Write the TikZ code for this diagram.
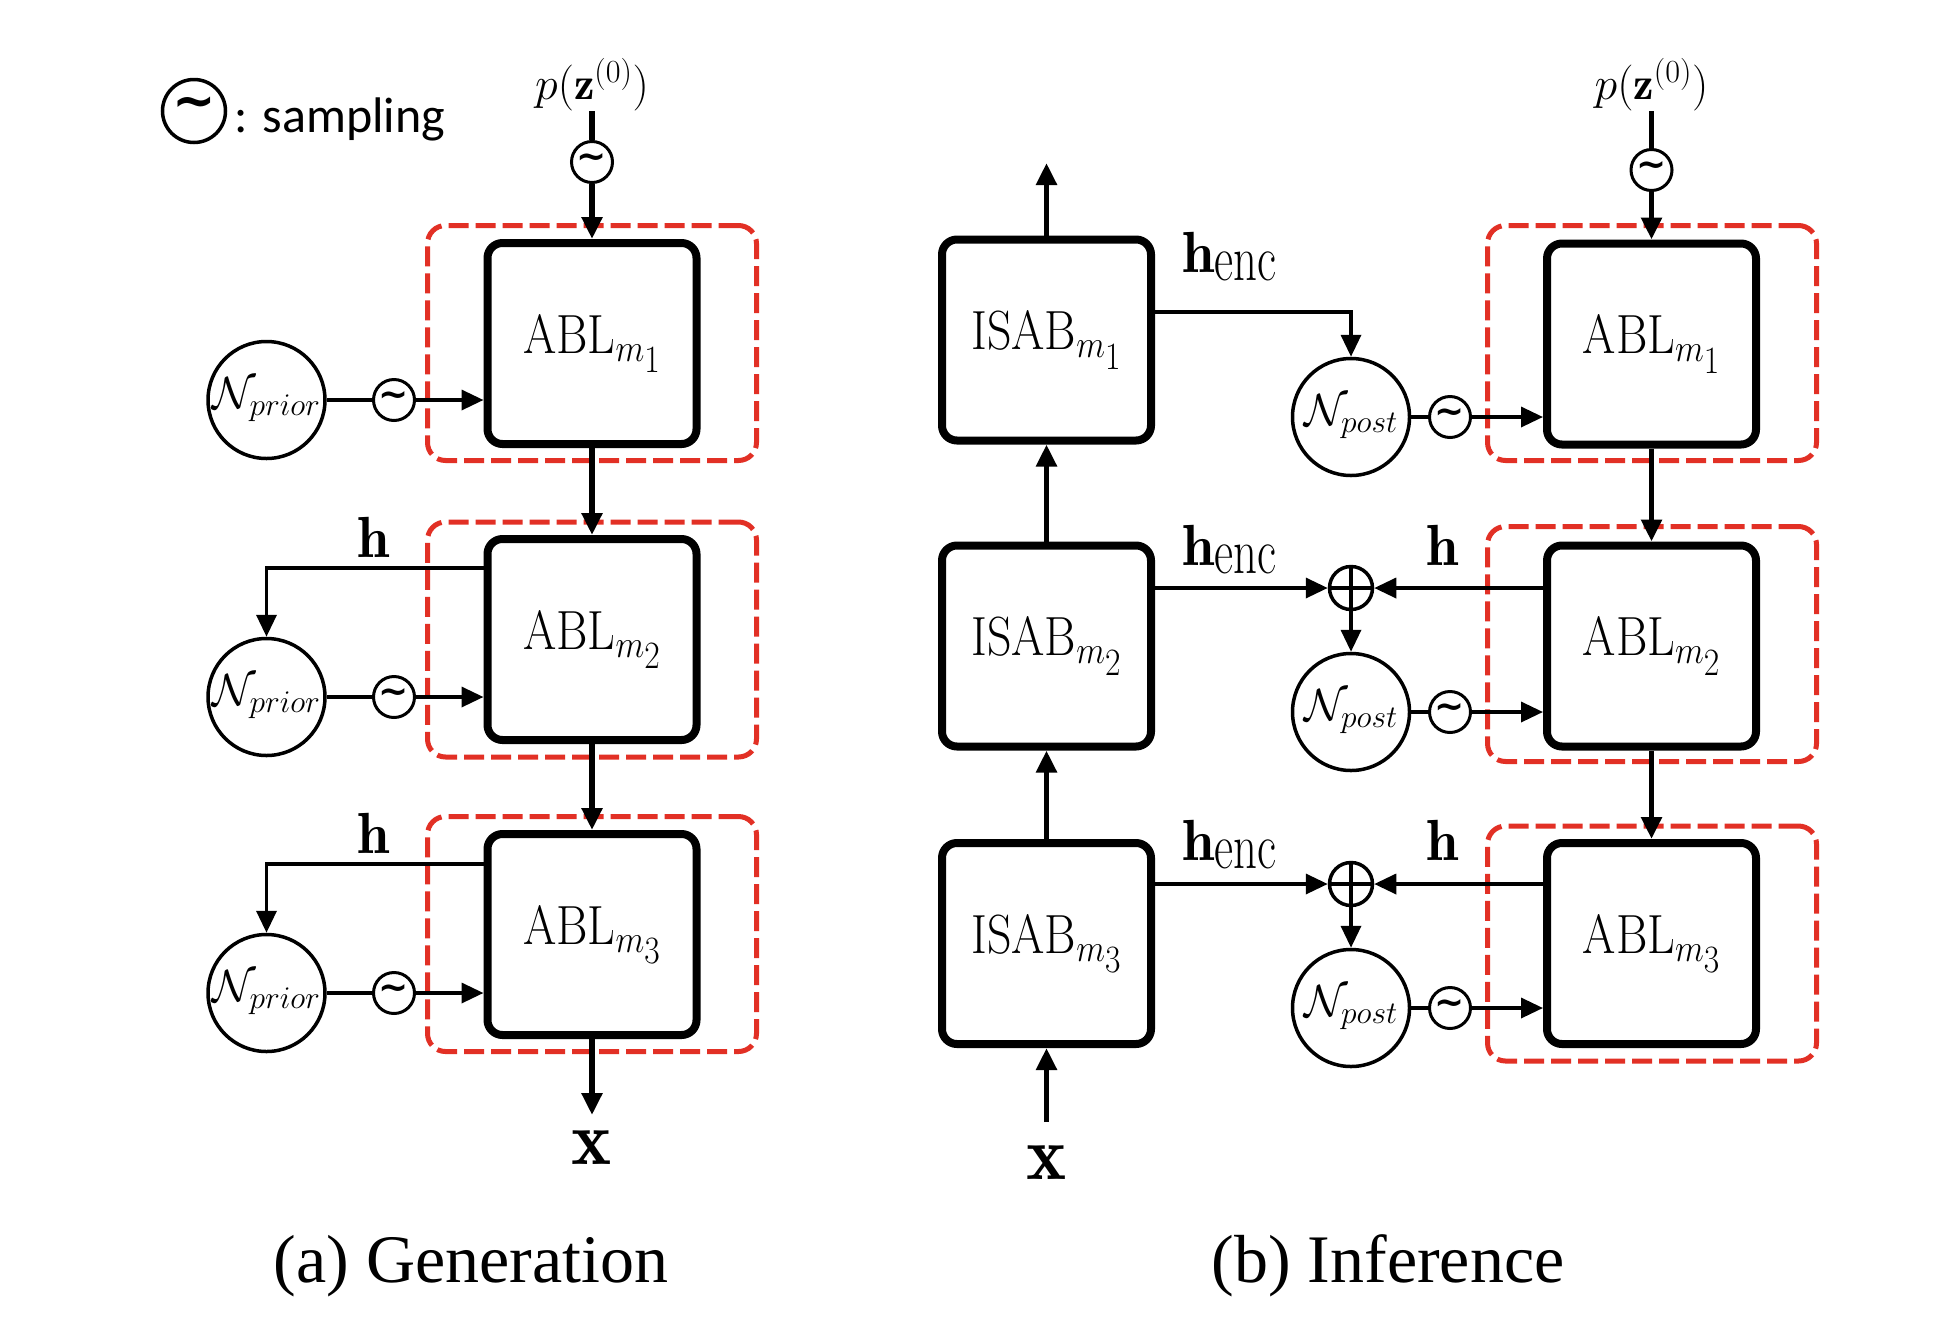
\documentclass[tikz,border=0pt]{standalone}
\usepackage{fix-cm}
\usepackage{fontspec}
\usepackage{graphicx}
\usetikzlibrary{arrows.meta,calc}
\newfontfamily\calfont{Carlito}
\newfontfamily\timesfont{Liberation Serif}
\newfontfamily\dejafont{DejaVu Sans}
\definecolor{dashred}{RGB}{226,48,37}
\newcommand\fs[1]{\fontsize{#1}{#1}\selectfont}
\newcommand\boxlab[2]{\scalebox{1}[1.15]{$\mathrm{#1}_{m_{\scriptstyle #2}}$}}
\newcommand\hencl{$\mathbf{h}$\raisebox{-8pt}{\scalebox{0.72}[1]{\fs{65}enc}}}
\newcommand\tld{\raisebox{2pt}{\dejafont\bfseries\fs{36}\char"7E}}
\begin{document}
\begin{tikzpicture}[x=1pt,y=-1pt,
  blk/.style={draw, line width=8pt, rounded corners=15pt, minimum width=209pt, minimum height=201pt, inner sep=0pt, font=\fs{48}},
  redbox/.style={draw=dashred, line width=5pt, dash pattern=on 20pt off 7pt, rounded corners=18pt, minimum width=329pt, minimum height=235pt, inner sep=0pt},
  ncirc/.style={circle, draw, line width=3.5pt, minimum size=117pt, inner sep=0pt, font=\fs{45}},
  scirc/.style={circle, draw, line width=3pt, minimum size=41pt, inner sep=0pt},
  opcirc/.style={circle, draw, line width=3.5pt, minimum size=43pt, inner sep=0pt},
  lbl/.style={inner sep=0pt},
  ln/.style={line width=3.5pt},
  vln/.style={line width=5.5pt},
  tip/.style={-{Triangle[length=22pt,width=20pt]}}
]
\useasboundingbox[fill=white] (0,0) rectangle (1944,1326);

% ---------- legend ----------
\node[circle, draw, line width=3.5pt, minimum size=63pt, inner sep=0pt] (leg) at (194,111) {\raisebox{6pt}{\dejafont\bfseries\fs{52}\char"7E}};
\node[lbl, anchor=base west, font=\calfont\fs{50}] (legtxt) at (234,132) {: sampling};

% ---------- (a) Generation ----------
\node[redbox] (rL1) at (592,343) {};
\node[redbox] (rL2) at (592,639.5) {};
\node[redbox] (rL3) at (592,934) {};

\node[blk] (aL1) at (592,343.5) {\boxlab{ABL}{1}};
\node[blk] (aL2) at (592,639.5) {\boxlab{ABL}{2}};
\node[blk] (aL3) at (592,934.5) {\boxlab{ABL}{3}};

\node[lbl, anchor=south, font=\fs{46}] (pzL) at (592,111) {$p(\mathbf{z}^{(0)})$};
\node[scirc] (sL0) at (592,162) {\tld};
\draw[vln] (pzL.south) -- (sL0.north);
\draw[vln,tip] (sL0.south) -- (aL1.north);
\draw[vln,tip] (aL1.south) -- (aL2.north);
\draw[vln,tip] (aL2.south) -- (aL3.north);
\coordinate (xLend) at (592,1115);
\draw[vln,tip] (aL3.south) -- (xLend);
\node[lbl, font=\fs{76}] (xL) at (592,1148) {$\mathbf{x}$};

\node[ncirc] (nL1) at (266.5,400) {$\mathcal{N}_{prior}$};
\node[ncirc] (nL2) at (266.5,697) {$\mathcal{N}_{prior}$};
\node[ncirc] (nL3) at (266.5,993) {$\mathcal{N}_{prior}$};
\node[scirc] (sL1) at (394,400) {\tld};
\node[scirc] (sL2) at (394,697) {\tld};
\node[scirc] (sL3) at (394,993) {\tld};
\foreach \i in {1,2,3}{
  \draw[ln] (nL\i.east) -- (sL\i.west);
  \draw[ln,tip] (sL\i.east) -- (sL\i.east -| aL\i.west);
}
\coordinate (hL2) at (267,568);
\coordinate (hL3) at (267,864);
\draw[ln,tip] (aL2.west |- hL2) -| (nL2.north);
\draw[ln,tip] (aL3.west |- hL3) -| (nL3.north);
\node[lbl, anchor=base, font=\fs{58}] (hlL2) at (374,557) {$\mathbf{h}$};
\node[lbl, anchor=base, font=\fs{58}] (hlL3) at (374,853) {$\mathbf{h}$};

\node[lbl, anchor=base, font=\timesfont\fs{68}] (capA) at (471,1282) {(a) Generation};

% ---------- (b) Inference ----------
\node[redbox] (rR1) at (1652,343) {};
\node[redbox] (rR2) at (1652,644) {};
\node[redbox] (rR3) at (1652,943.5) {};

\node[blk] (aR1) at (1651.5,344) {\boxlab{ABL}{1}};
\node[blk] (aR2) at (1651.5,646) {\boxlab{ABL}{2}};
\node[blk] (aR3) at (1651.5,943.5) {\boxlab{ABL}{3}};

\node[blk] (i1) at (1046.5,340) {\boxlab{ISAB}{1}};
\node[blk] (i2) at (1046.5,646) {\boxlab{ISAB}{2}};
\node[blk] (i3) at (1046.5,943.5) {\boxlab{ISAB}{3}};

\coordinate (i1top) at (1046.5,163);
\draw[vln,tip] (i1.north) -- (i1top);
\draw[vln,tip] (i2.north) -- (i1.south);
\draw[vln,tip] (i3.north) -- (i2.south);
\coordinate (xRs) at (1046.5,1122);
\draw[vln,tip] (xRs) -- (i3.south);
\node[lbl, font=\fs{76}] (xR) at (1046.5,1163) {$\mathbf{x}$};

\node[lbl, anchor=south, font=\fs{46}] (pzR) at (1651.5,111) {$p(\mathbf{z}^{(0)})$};
\node[scirc] (sR0) at (1651.5,170) {\tld};
\draw[vln] (pzR.south) -- (sR0.north);
\draw[vln,tip] (sR0.south) -- (aR1.north);
\draw[vln,tip] (aR1.south) -- (aR2.north);
\draw[vln,tip] (aR2.south) -- (aR3.north);

\node[ncirc] (nR1) at (1351,417) {$\mathcal{N}_{post}$};
\node[ncirc] (nR2) at (1351,712) {$\mathcal{N}_{post}$};
\node[ncirc] (nR3) at (1351,1008) {$\mathcal{N}_{post}$};
\node[scirc] (sR1) at (1450,417) {\tld};
\node[scirc] (sR2) at (1450,712) {\tld};
\node[scirc] (sR3) at (1450,1008) {\tld};
\foreach \i in {1,2,3}{
  \draw[ln] (nR\i.east) -- (sR\i.west);
  \draw[ln,tip] (sR\i.east) -- (sR\i.east -| aR\i.west);
}

\coordinate (he1) at (1351,312);
\draw[ln,tip] (i1.east |- he1) -| (nR1.north);

\node[opcirc] (o2) at (1351,588) {};
\node[opcirc] (o3) at (1351,884) {};
\foreach \i in {2,3}{
  \draw[ln] (o\i.north) -- (o\i.south) (o\i.west) -- (o\i.east);
  \draw[ln,tip] (i\i.east |- o\i) -- (o\i.west);
  \draw[ln,tip] (aR\i.west |- o\i) -- (o\i.east);
  \draw[ln,tip] (o\i.south) -- (nR\i.north);
}

\node[lbl, anchor=base west, font=\fs{58}] (he1l) at (1182,272) {\hencl};
\node[lbl, anchor=base west, font=\fs{58}] (he2l) at (1182,565) {\hencl};
\node[lbl, anchor=base west, font=\fs{58}] (he3l) at (1182,860) {\hencl};
\node[lbl, anchor=base, font=\fs{58}] (hR2) at (1443,565) {$\mathbf{h}$};
\node[lbl, anchor=base, font=\fs{58}] (hR3) at (1443,860) {$\mathbf{h}$};

\node[lbl, anchor=base, font=\timesfont\fs{68}] (capB) at (1388,1282) {(b) Inference};
\end{tikzpicture}
\end{document}
